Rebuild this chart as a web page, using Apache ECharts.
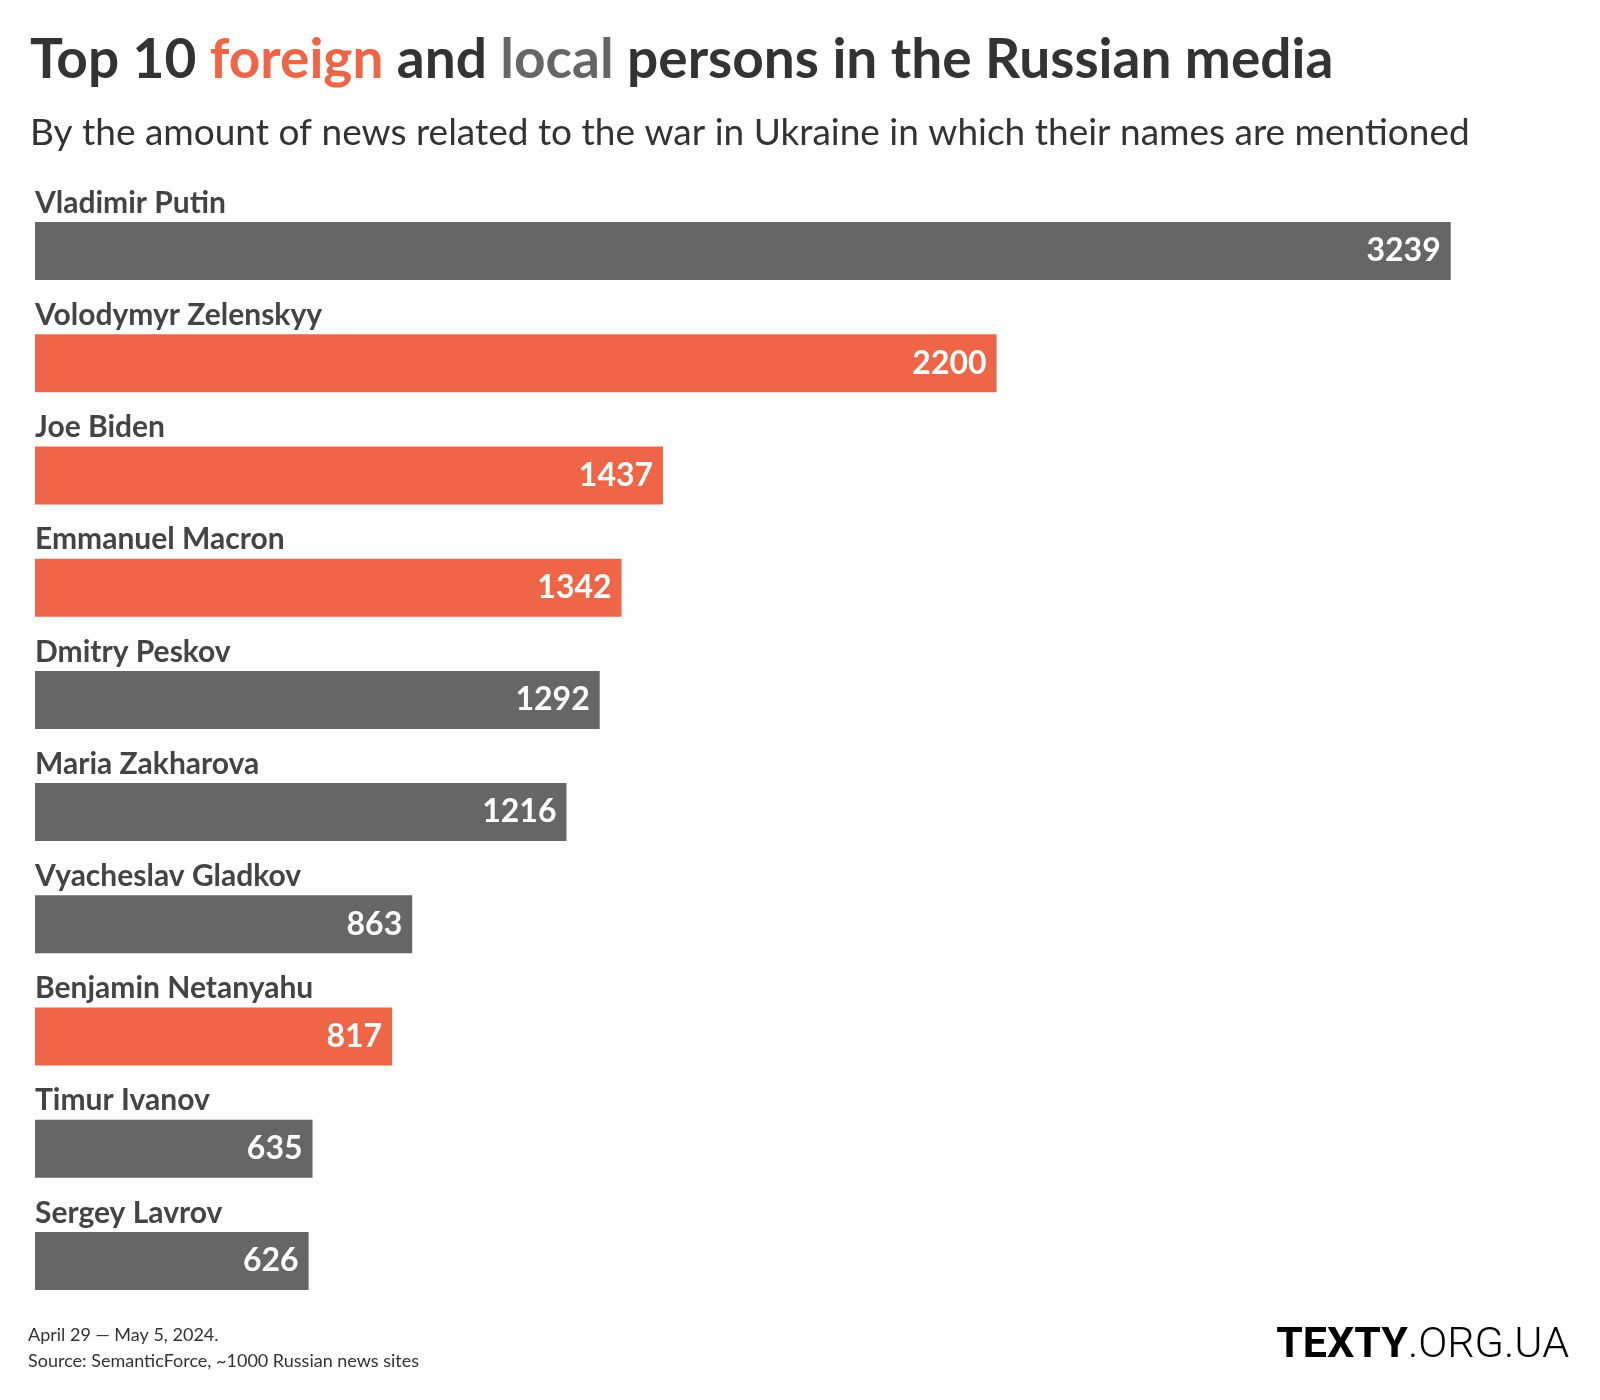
<!DOCTYPE html>
<html>
<head>
<meta charset="utf-8">
<script src="https://cdn.jsdelivr.net/npm/echarts@6/dist/echarts.min.js"></script>
<style>html,body{margin:0;padding:0;background:#fff}#chart{width:1600px;height:1400px}</style>
</head>
<body>
<div id="chart"></div>
<script>
const names = ["Vladimir Putin","Volodymyr Zelenskyy","Joe Biden","Emmanuel Macron","Dmitry Peskov","Maria Zakharova","Vyacheslav Gladkov","Benjamin Netanyahu","Timur Ivanov","Sergey Lavrov"];
const mentions = [3239,2200,1437,1342,1292,1216,863,817,635,626];
const groups = ["local","foreign","foreign","foreign","local","local","local","foreign","local","local"];

const COLORS = {foreign:"#ee6647", local:"#666666"};
const FONT = "Lato";

const chart = echarts.init(document.getElementById('chart'), null, {renderer:'canvas'});
const barData = mentions.map((v,i)=>({value:v, itemStyle:{color:COLORS[groups[i]]}}));

chart.setOption({
  backgroundColor:'#ffffff',
  animation:false,
  title:[
    {text:'{a|Top 10 }{f|foreign}{a| and }{l|local}{a| persons in the Russian media}', left:25, top:28,
     textStyle:{rich:{
       a:{fontFamily:FONT,fontWeight:'bold',fontSize:55,color:'#333333'},
       f:{fontFamily:FONT,fontWeight:'bold',fontSize:55,color:COLORS.foreign},
       l:{fontFamily:FONT,fontWeight:'bold',fontSize:55,color:COLORS.local}}}},
    {text:'By the amount of news related to the war in Ukraine in which their names are mentioned', left:25, top:110,
     textStyle:{fontFamily:FONT,fontWeight:'normal',fontSize:37,color:'#333333'}},
    {text:'April 29 — May 5, 2024.\nSource: SemanticForce, ~1000 Russian news sites', left:23, top:1317,
     textStyle:{fontFamily:FONT,fontWeight:'normal',fontSize:18,color:'#333333',lineHeight:26}},
    {text:'{b|TEXTY}{r|.ORG.UA}', right:26, top:1320,
     textStyle:{rich:{b:{fontFamily:'Roboto',fontWeight:'bold',fontSize:43,color:'#000000'},
                      r:{fontFamily:'Roboto',fontWeight:300,fontSize:43,color:'#000000'}}}}
  ],
  grid:{left:35, right:149.3, top:195, bottom:83, containLabel:false},
  xAxis:{type:'value', min:0, max:3239, show:false},
  yAxis:{type:'category', data:names, inverse:true, show:false},
  series:[
    {type:'bar', data:barData, barWidth:58, silent:true,
     label:{show:true, position:'insideRight', distance:10, formatter:'{c}',
            fontFamily:FONT, fontWeight:'bold', fontSize:32, color:'#ffffff'}},
    {type:'bar', data:mentions, barWidth:58, barGap:'-100%', silent:true,
     itemStyle:{color:'rgba(0,0,0,0)'},
     label:{show:true, position:[0,-4], align:'left', verticalAlign:'bottom', formatter:'{b}',
            fontFamily:FONT, fontWeight:'bold', fontSize:30, color:'#444444'}}
  ]
});
</script>
</body>
</html>
